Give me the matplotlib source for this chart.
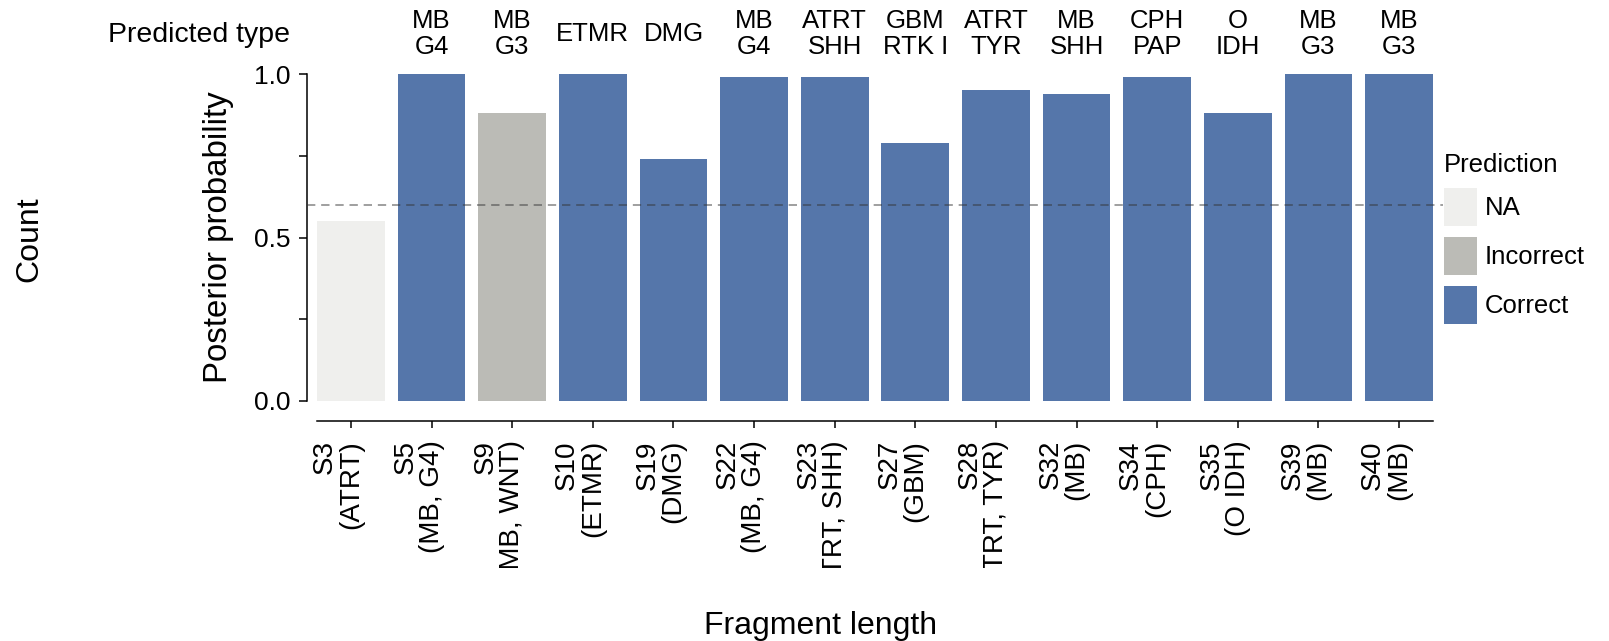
import matplotlib
matplotlib.use("Agg")
import matplotlib.pyplot as plt
import matplotlib.transforms as mtransforms
from matplotlib.patches import Patch

plt.rcParams["font.family"] = ["Liberation Sans", "DejaVu Sans"]

SAMPLES = ["S3\n(ATRT)", "S5\n(MB, G4)", "S9\n(MB, WNT)", "S10\n(ETMR)",
           "S19\n(DMG)", "S22\n(MB, G4)", "S23\n(ATRT, SHH)", "S27\n(GBM)",
           "S28\n(ATRT, TYR)", "S32\n(MB)", "S34\n(CPH)", "S35\n(O IDH)",
           "S39\n(MB)", "S40\n(MB)"]
PREDICTED = ["", "MB\nG4", "MB\nG3", "ETMR", "DMG", "MB\nG4", "ATRT\nSHH",
             "GBM\nRTK I", "ATRT\nTYR", "MB\nSHH", "CPH\nPAP", "O\nIDH",
             "MB\nG3", "MB\nG3"]
POSTERIOR = [0.55, 1.0, 0.88, 1.0, 0.74, 0.99, 0.99, 0.79, 0.95, 0.94,
             0.99, 0.88, 1.0, 1.0]
OUTCOME = ["NA", "Correct", "Incorrect", "Correct", "Correct", "Correct",
           "Correct", "Correct", "Correct", "Correct", "Correct", "Correct",
           "Correct", "Correct"]
THRESHOLD = 0.6

OUTCOME_COLORS = {"NA": "#EFEFED", "Incorrect": "#BBBBB6", "Correct": "#5576AA"}

W, H = 1609, 641
fig = plt.figure(figsize=(W / 100, H / 100), dpi=100)


def fy(px):
    """figure fraction from a pixel row counted from the top"""
    return 1 - px / H


# axes box in pixel units (left, top, right, bottom)
left, top, right, bottom = 307, 74, 1443, 401
ax = fig.add_axes([left / W, fy(bottom), (right - left) / W, (bottom - top) / H])

x = list(range(len(SAMPLES)))
ax.bar(x, POSTERIOR, width=0.84, color=[OUTCOME_COLORS[o] for o in OUTCOME], zorder=1)
ax.axhline(THRESHOLD, color="#333333", alpha=0.55, lw=1.2, ls=(0, (5, 3.5)), zorder=3)

ax.set_xlim(-0.546, len(SAMPLES) - 1 + 0.546)
ax.set_ylim(0, 1)

for side in ("top", "right"):
    ax.spines[side].set_visible(False)
ax.spines["left"].set_bounds(0, 1)
ax.spines["bottom"].set_position(("outward", 14.4))
ax.spines["bottom"].set_bounds(-0.42, len(SAMPLES) - 1 + 0.42)
for side in ("left", "bottom"):
    ax.spines[side].set_linewidth(1.1)

ax.set_yticks([0, 0.25, 0.5, 0.75, 1.0])
ax.set_yticklabels(["0.0", "", "0.5", "", "1.0"])
ax.tick_params(axis="y", length=5.5, width=1.1, pad=6.5, labelsize=19)
ax.tick_params(axis="x", length=5, width=1.1)
ax.set_xticks(x)
ax.set_xticklabels([])

# sample names under the axis; long ones run off the bottom of the panel
clip = mtransforms.TransformedBbox(
    mtransforms.Bbox([[0, fy(568)], [1, 1]]), fig.transFigure)
shift = mtransforms.ScaledTranslation(13 / 100, 0, fig.dpi_scale_trans)
bottom_tf = mtransforms.blended_transform_factory(ax.transData, fig.transFigure) + shift
for xi, name in zip(x, SAMPLES):
    t = ax.text(xi, fy(440), name, transform=bottom_tf, rotation=90,
                ha="right", va="top", multialignment="right",
                fontsize=20, linespacing=1.0)
    t.set_clip_box(clip)
    t.set_clip_on(True)

# predicted type above each bar
top_tf = mtransforms.blended_transform_factory(ax.transData, fig.transFigure)
for xi, name in zip(x, PREDICTED):
    if name:
        ax.text(xi, fy(34), name, transform=top_tf, ha="center", va="center",
                fontsize=18.5, linespacing=1.1)
fig.text(290 / W, fy(35), "Predicted type", ha="right", va="center", fontsize=20.5)

fig.text(218 / W, fy(237), "Posterior probability", rotation=90,
         ha="center", va="center", fontsize=23.8)
fig.text(29 / W, fy(239), "Count", rotation=90, ha="center", va="center", fontsize=23)
fig.text(821 / W, fy(626), "Fragment length", ha="center", va="center", fontsize=23)

handles = [Patch(facecolor=OUTCOME_COLORS[k], edgecolor="none")
           for k in ("NA", "Incorrect", "Correct")]
leg = fig.legend(handles, ["NA", "Incorrect", "Correct"], title="Prediction",
                 loc="upper left", bbox_to_anchor=(1444 / W, fy(153)),
                 frameon=False, fontsize=18.5, title_fontsize=18.5, alignment="left",
                 handlelength=1.28, handleheight=1.9, labelspacing=0.43,
                 handletextpad=0.3, borderpad=0, borderaxespad=0)

fig.savefig("out.png", dpi=100)
